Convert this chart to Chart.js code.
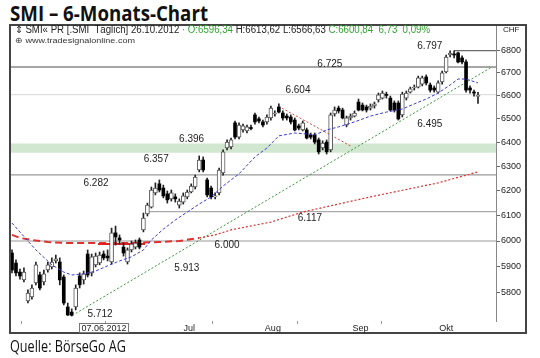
<!DOCTYPE html>
<html><head><meta charset="utf-8">
<script src="https://cdn.jsdelivr.net/npm/chart.js@4.4.1/dist/chart.umd.min.js"></script>
<style>
html,body{margin:0;padding:0;background:#fff;width:540px;height:358px;overflow:hidden;}
#wrap{position:relative;width:540px;height:358px;}
#frame{position:absolute;left:9px;top:24px;width:518px;height:310px;border:2px solid #444;box-sizing:border-box;}
canvas{position:absolute;left:0;top:0;}
.t{position:absolute;white-space:nowrap;transform-origin:0 0;}
#title{left:10px;top:1px;font:bold 22px/22px "Open Sans";color:#111;}
#hdr1{left:15px;top:25px;font:10px/10px "Liberation Sans";color:#222;}
#hdr2{left:15px;top:37px;font:8px/8px "Liberation Sans";color:#333;}
#chf{left:503px;top:26px;font:8px/8px "Liberation Sans";color:#222;}
#src{left:10px;top:338px;font:16px/16px "Open Sans";color:#111;}
.g{color:#2fa52f;}
</style></head>
<body><div id="wrap">
<div id="title" class="t">SMI – 6-Monats-Chart</div>
<div id="frame"></div>
<canvas id="c" width="540" height="358"></canvas>
<div id="hdr1" class="t">⇕ SMI« PR [.SMI&nbsp; Täglich] 26.10.2012 <span class="g">· O:6596,34</span> H:6613,62 L:6566,63 <span class="g">C:6600,84 &nbsp;6,73 &nbsp;0,09%</span></div>
<div id="hdr2" class="t">⊕ www.tradesignalonline.com</div>
<div id="chf" class="t">CHF</div>
<div id="src" class="t">Quelle: BörseGo AG</div>
</div>
<script>
// ---- data (bar index 0 = mid May 2012, 118 trading days to 26.10.2012) ----
const open = [
 5953,5914,5879,5849,5769,5784,5837,5868,5841,5887,5899,5922,5918,
 5860,5746,5727,5746,5864,5849,5949,5876,5907,5914,5949,5941,5918,6032,6012,5976,5918,5965,5976,6004,6044,
 6107,6135,6192,6229,6212,6188,6168,6176,6143,6155,6176,6196,6216,6286,6327,6245,6212,6176,6192,6274,6377,6382,
 6483,6423,6453,6449,6461,6517,6500,6487,6487,6504,6521,6551,6525,6512,6508,6495,6470,6453,6453,6432,6432,6411,
 6377,6402,6369,6521,6546,6538,6474,6504,6512,6572,6559,6551,6546,6555,6581,6589,6603,6589,6568,6568,
 6517,6589,6615,6633,6637,6650,6681,6646,6633,6615,6659,6703,6778,6782,6787,6765,6747,6633,6615,6596.34];
const high = [
 5965,5926,5891,5895,5811,5830,5918,5879,5887,5918,5934,5945,5934,
 5868,5761,5739,5830,5876,5883,5965,5949,5953,5957,5961,5965,6051,6059,6024,5992,5973,6000,6004,6012,6111,
 6151,6216,6233,6245,6224,6200,6204,6188,6168,6192,6204,6229,6265,6344,6340,6253,6220,6192,6294,6369,6411,6419,
 6491,6483,6478,6474,6474,6525,6508,6495,6517,6555,6534,6564,6534,6521,6517,6504,6478,6491,6461,6440,6440,6419,
 6407,6411,6525,6551,6555,6546,6512,6521,6534,6585,6568,6559,6564,6572,6611,6620,6615,6598,6577,6577,
 6615,6620,6637,6646,6685,6685,6690,6655,6642,6664,6707,6778,6797,6796,6791,6774,6756,6642,6624,6613.62];
const low = [
 5876,5864,5852,5841,5761,5776,5830,5811,5830,5879,5891,5914,5830,
 5754,5714,5712,5735,5818,5833,5860,5864,5899,5907,5926,5922,5910,5984,5988,5941,5910,5957,5969,5969,6036,
 6099,6131,6184,6196,6172,6151,6159,6155,6131,6147,6168,6192,6208,6278,6278,6176,6168,6168,6184,6265,6369,6373,
 6415,6415,6444,6440,6453,6478,6483,6466,6478,6495,6512,6525,6495,6495,6478,6449,6453,6449,6415,6415,6394,6352,
 6369,6352,6361,6512,6525,6500,6466,6495,6508,6534,6534,6529,6538,6546,6572,6585,6589,6534,6529,6495,
 6508,6581,6611,6624,6633,6642,6646,6615,6615,6611,6650,6699,6769,6765,6743,6738,6615,6611,6598,6566.63];
const close = [
 5887,5876,5864,5879,5799,5818,5907,5818,5872,5907,5918,5930,5849,
 5761,5716,5715,5818,5830,5872,5868,5938,5941,5945,5934,5934,6032,6016,6004,5953,5965,5988,5992,5976,6091,
 6143,6204,6212,6204,6180,6164,6192,6168,6159,6180,6196,6220,6257,6327,6286,6184,6176,6180,6286,6361,6402,6411,
 6423,6474,6470,6466,6459,6487,6491,6474,6508,6546,6525,6529,6504,6504,6487,6453,6461,6483,6419,6423,6402,6361,
 6398,6361,6517,6538,6534,6504,6504,6512,6525,6538,6538,6538,6555,6564,6603,6611,6601,6538,6538,6500,
 6607,6611,6629,6637,6677,6677,6655,6624,6624,6655,6699,6769,6787,6778,6747,6747,6624,6624,6611,6600.84];

// short moving average (blue), read at bar indices
const maShortX = [0,6,10,13,15,18,21,24,27,30,33,35,38,41,44,47,50,53,57,61,64,67,71,74,76,79,82,86,90,94,98,101,104,107,110,112,114,117];
const maShortY = [6071,5965,5907,5879,5868,5872,5883,5903,5922,5938,5965,6004,6047,6083,6115,6147,6176,6220,6270,6340,6377,6428,6440,6436,6432,6453,6466,6487,6512,6529,6542,6564,6585,6611,6646,6672,6672,6655];
// long moving average (red)
const maLongX = [0,2,5,9,14,22,30,37,42,47,51,55,65,73,90,107,117];
const maLongY = [6024,6012,6004,5996,5992,5992,5992,5996,6000,6012,6024,6044,6075,6115,6176,6233,6278];
// trend lines
const upTrendX = [16,120.5];
const upTrendY = [5722,6725];
const downTrendX = [67.8,85.4];
const downTrendY = [6546,6382];
const neckX = [21.6,33.4];
const neckY = [5988,5988];
// horizontal levels (as drawn) and their text labels
const levels = [6797,6725,6604,6266,6117,6000];
const zoneTop = 6396, zoneBottom = 6357;
const levelLabels = ['6.797','6.725','6.604','6.396','6.357','6.282','6.117','6.000','6.495','5.913','5.712'];
// axes
const yTicks = [5800,5900,6000,6100,6200,6300,6400,6500,6600,6700,6800];
const monthNames = ['Jul','Aug','Sep','Okt'];
const monthStart = [13,34,56,78,98];   // first bar of Jun, Jul, Aug, Sep, Okt
const monthCenter = [44.5,65.5,87.5,109]; // label centres Jul..Okt
const cursorIndex = 17, cursorText = '07.06.2012';

// ---- layout / style (not data) ----
const xMin = -0.25, xMax = 121.52, yMin = 5693.5, yMax = 6908;
const levelStart = {6797: 111, 6117: 34.1};
const levelStyle = {6797:['#444',1], 6725:['#888',1.5], 6604:['#d8d8d8',1], 6266:['#999',1.2], 6117:['#aaa',1.2], 6000:['#999',1.2]};
// label anchor: [bar index, value on y scale, pixel offset]
const labelLayout = {'6.797':[104.9,6797,-4],'6.725':[79.8,6725,-3],'6.604':[71.8,6604,-4.6],'6.396':[45.1,6396,-4.5],'6.357':[36.2,6357,6.7],'6.282':[21.1,6266,8],'6.117':[74.8,6117,6.5],'6.000':[54,6000,4.5],'6.495':[104.9,6495,4.5],'5.913':[43.9,5913,4.5],'5.712':[22.1,5712,-2]};
const FAM = '"Liberation Sans", Arial, sans-serif';

const idx = open.map((_, i) => i);
const wicks = idx.map(i => ({x: i, y: [low[i], high[i]]}));
const upBodies = idx.filter(i => close[i] >= open[i]).map(i => ({x: i, y: [open[i], close[i]]}));
const downBodies = idx.filter(i => close[i] < open[i]).map(i => ({x: i, y: [close[i], open[i]]}));
const pts = (xs, ys) => xs.map((x, k) => ({x, y: ys[k]}));
const hline = (v, from) => [{x: from ?? xMin, y: v}, {x: xMax, y: v}];

const lineBase = {type: 'line', pointRadius: 0, tension: 0, fill: false, borderJoinStyle: 'round'};
const datasets = [
  {...lineBase, data: hline(zoneTop), borderWidth: 0, backgroundColor: '#d2e7cf', fill: '+1', order: 20},
  {...lineBase, data: hline(zoneBottom), borderWidth: 0, order: 21},
  ...levels.map(v => ({...lineBase, data: hline(v, levelStart[v]), borderColor: levelStyle[v][0], borderWidth: levelStyle[v][1], order: 15})),
  {...lineBase, data: pts(maLongX, maLongY), borderColor: '#e0302f', order: 6,
    segment: {borderWidth: c => c.p0.parsed.x < 47 ? 2 : 1.2, borderDash: c => c.p0.parsed.x < 47 ? [7,4] : [2,2]}},
  {...lineBase, data: pts(upTrendX, upTrendY), borderColor: '#3c963c', borderWidth: 1, borderDash: [2,2], order: 6},
  {...lineBase, data: pts(downTrendX, downTrendY), borderColor: '#e04040', borderWidth: 1, borderDash: [2,2], order: 6},
  {...lineBase, data: pts(neckX, neckY), borderColor: '#e02020', borderWidth: 2, order: 5},
  {type: 'bar', data: wicks, backgroundColor: '#222', barThickness: 1, grouped: false, order: 4},
  {type: 'bar', data: upBodies, backgroundColor: '#fff', borderColor: '#555', borderWidth: 1, borderSkipped: false, barThickness: 4, minBarLength: 1, grouped: false, order: 3},
  {type: 'bar', data: downBodies, backgroundColor: '#000', barThickness: 3, minBarLength: 1, grouped: false, order: 2},
  {...lineBase, data: pts(maShortX, maShortY), borderColor: '#3a3ad6', borderWidth: 1, borderDash: [3,2], order: 1},
];

const startSet = new Set(monthStart);
const labelMap = new Map(monthCenter.map((v, k) => [v, monthNames[k]]));

const overlay = {
  id: 'overlay',
  afterDatasetsDraw(chart) {
    const {ctx, scales: {x, y}} = chart;
    ctx.save();
    ctx.font = '10px ' + FAM;
    ctx.fillStyle = '#222';
    ctx.textAlign = 'center';
    ctx.textBaseline = 'middle';
    levelLabels.forEach(t => {
      const [ix, v, dy] = labelLayout[t];
      ctx.fillText(t, x.getPixelForValue(ix), y.getPixelForValue(v) + dy);
    });
    ctx.restore();
  },
  afterDraw(chart) {
    const {ctx, chartArea, scales: {x}} = chart;
    ctx.save();
    ctx.font = '9px ' + FAM;
    const px = Math.round(x.getPixelForValue(cursorIndex));
    const w = ctx.measureText(cursorText).width + 4;
    const top = chartArea.bottom + 2;
    ctx.fillStyle = '#fff';
    ctx.fillRect(px - 1, top, w, 10);
    ctx.strokeStyle = '#777';
    ctx.lineWidth = 1;
    ctx.strokeRect(px - 0.5, top + 0.5, w, 9);
    ctx.fillStyle = '#222';
    ctx.textBaseline = 'middle';
    ctx.fillText(cursorText, px + 1.5, top + 5.5);
    ctx.restore();
  }
};

function fit(id, w) {
  const el = document.getElementById(id);
  el.style.transform = 'none';
  const r = el.getBoundingClientRect().width;
  if (r > 0) el.style.transform = 'scaleX(' + (w / r) + ')';
}
function fitAll() { fit('title', 198); fit('src', 116); fit('hdr1', 415); fit('hdr2', 120); }
fitAll();
if (document.fonts && document.fonts.ready) document.fonts.ready.then(fitAll);

new Chart(document.getElementById('c'), {
  type: 'bar',
  data: {datasets},
  plugins: [overlay],
  options: {
    responsive: false, animation: false, devicePixelRatio: 1,
    layout: {padding: {left: 11, top: 26, right: 14, bottom: 25}},
    plugins: {legend: {display: false}, tooltip: {enabled: false}},
    events: [],
    scales: {
      x: {
        type: 'linear', min: xMin, max: xMax, offset: false, position: 'bottom',
        afterFit: s => { s.height = 12; },
        afterBuildTicks: s => { s.ticks = [...monthStart, ...monthCenter].sort((a, b) => a - b).map(v => ({value: v})); },
        ticks: {autoSkip: false, maxRotation: 0, padding: -1, color: '#222', font: {size: 9, family: FAM},
          callback: v => labelMap.get(v) ?? ''},
        grid: {drawOnChartArea: false, tickLength: 3, tickColor: c => (c.tick && startSet.has(c.tick.value)) ? '#999' : 'rgba(0,0,0,0)'},
        border: {display: false}
      },
      y: {
        type: 'logarithmic', position: 'right', min: yMin, max: yMax,
        afterFit: s => { s.width = 30; },
        afterBuildTicks: s => { s.ticks = yTicks.map(v => ({value: v})); },
        ticks: {autoSkip: false, padding: 1, color: '#222', font: {size: 9, family: FAM}, callback: v => String(v)},
        grid: {drawOnChartArea: false, tickLength: 4, tickColor: '#666'},
        border: {display: true, color: '#888', width: 1}
      }
    }
  }
});
</script>
</body></html>
